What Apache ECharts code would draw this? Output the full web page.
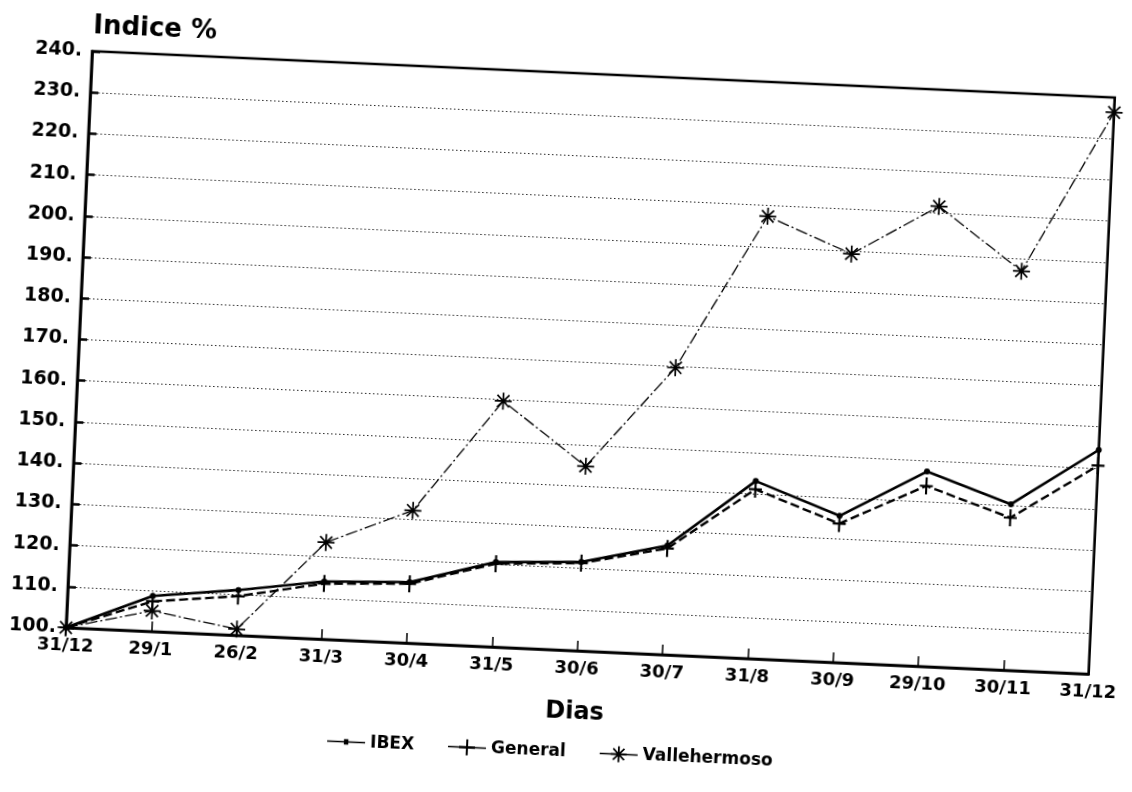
<!DOCTYPE html>
<html>
<head>
<meta charset="utf-8">
<script src="https://cdn.jsdelivr.net/npm/echarts@6/dist/echarts.min.js"></script>
<style>
  html, body { margin: 0; padding: 0; background: #fff; overflow: hidden; }
  #chart { width: 1132px; height: 792px; transform: rotate(2.6deg); transform-origin: 50% 50%; }
</style>
</head>
<body>
<div id="chart"></div>
<script>
// ---- data ----
const categories = ['31/12', '29/1', '26/2', '31/3', '30/4', '31/5', '30/6', '30/7', '31/8', '30/9', '29/10', '30/11', '31/12'];
const ibex        = [100, 108.6, 111.0, 114.0, 114.8, 120.6, 121.6, 126.5, 143.1, 135.6, 147.3, 140.3, 154.4];
const general     = [100, 107.3, 109.5, 113.5, 114.4, 120.2, 121.3, 125.8, 141.1, 133.7, 143.8, 137.0, 150.6];
const vallehermoso = [100, 105.0, 101.5, 123.5, 132.2, 159.7, 144.8, 169.7, 207.4, 199.2, 211.7, 196.9, 236.4];
const yMin = 100, yMax = 240, yStep = 10;
const seriesNames = ['IBEX', 'General', 'Vallehermoso'];
const yAxisTitle = 'Indice %';
const xAxisTitle = 'Dias';

// ---- styling ----
const FONT = 'DejaVu Sans';
const plusPath = 'path://M-1.3,-10 L1.3,-10 L1.3,10 L-1.3,10 Z M-8,-1.3 L8,-1.3 L8,1.3 L-8,1.3 Z';
const starPath = 'path://M-1,-10 L1,-10 L1,10 L-1,10 Z M-10,-1 L10,-1 L10,1 L-10,1 Z ' +
  'M-7.8,-6.4 L-6.4,-7.8 L7.8,6.4 L6.4,7.8 Z M6.4,-7.8 L7.8,-6.4 L-6.4,7.8 L-7.8,6.4 Z';
// legend icons: line with the series marker in the middle
const legendIconIbex = 'path://M0,1.9 L38,1.9 L38,3.5 L0,3.5 Z M16.8,0 L21.2,0 L21.2,5.4 L16.8,5.4 Z';
const legendIconGeneral = 'path://M0,7.2 L38,7.2 L38,8.8 L0,8.8 Z M18,0 L20,0 L20,16 L18,16 Z M11,6.8 L27,6.8 L27,9.2 L11,9.2 Z';
const legendIconValle = 'path://M0,7.2 L38,7.2 L38,8.8 L0,8.8 Z M18.1,0 L19.9,0 L19.9,16 L18.1,16 Z ' +
  'M11,6.9 L27,6.9 L27,9.1 L11,9.1 Z M12.8,3 L14,1.8 L25.2,13 L24,14.2 Z M24,1.8 L25.2,3 L14,14.2 L12.8,13 Z';

const chart = echarts.init(document.getElementById('chart'), null, { renderer: 'canvas' });
chart.setOption({
  animation: false,
  backgroundColor: '#fff',
  grid: {
    left: 77, top: 73, right: 23, bottom: 142,
    show: true, borderColor: '#000', borderWidth: 2.6, backgroundColor: 'transparent'
  },
  legend: {
    bottom: 27, left: 'center',
    itemWidth: 38, itemHeight: 16, itemGap: 34,
    textStyle: { fontFamily: FONT, fontWeight: 'bold', fontSize: 17, color: '#000' },
    data: [
      { name: seriesNames[0], icon: legendIconIbex },
      { name: seriesNames[1], icon: legendIconGeneral },
      { name: seriesNames[2], icon: legendIconValle }
    ]
  },
  xAxis: {
    type: 'category',
    data: categories,
    boundaryGap: false,
    name: xAxisTitle,
    nameLocation: 'middle',
    nameGap: 50,
    nameTextStyle: { fontFamily: FONT, fontWeight: 'bold', fontSize: 24, color: '#000' },
    axisLine: { lineStyle: { color: '#000', width: 2.6 } },
    axisTick: { inside: true, length: 10, lineStyle: { color: '#000', width: 1.5 } },
    axisLabel: { margin: 9, fontFamily: FONT, fontWeight: 'bold', fontSize: 18, color: '#000' },
    splitLine: { show: false }
  },
  yAxis: {
    type: 'value',
    min: yMin, max: yMax, interval: yStep,
    name: yAxisTitle,
    nameLocation: 'end',
    nameGap: 12,
    nameTextStyle: { fontFamily: FONT, fontWeight: 'bold', fontSize: 26, color: '#000', align: 'left' },
    axisLine: { show: true, lineStyle: { color: '#000', width: 2.6 } },
    axisTick: { show: true, inside: true, length: 8, lineStyle: { color: '#000', width: 2.5 } },
    axisLabel: {
      margin: 10, fontFamily: FONT, fontWeight: 'bold', fontSize: 19, color: '#000',
      formatter: v => v + '.'
    },
    splitLine: { show: true, lineStyle: { color: '#000', width: 1, type: [1.5, 2.5], opacity: 0.85 } }
  },
  series: [
    {
      name: seriesNames[0], type: 'line', data: ibex,
      symbol: 'circle', symbolSize: 6, showAllSymbol: true,
      lineStyle: { color: '#000', width: 2.6, type: 'solid' },
      itemStyle: { color: '#000' }, z: 3
    },
    {
      name: seriesNames[1], type: 'line', data: general,
      symbol: plusPath, symbolSize: [13, 17], showAllSymbol: true,
      lineStyle: { color: '#000', width: 2.4, type: [9, 4] },
      itemStyle: { color: '#000' }, z: 2
    },
    {
      name: seriesNames[2], type: 'line', data: vallehermoso,
      symbol: starPath, symbolSize: 17, showAllSymbol: true,
      lineStyle: { color: '#000', width: 1.3, type: [12, 3, 2, 3] },
      itemStyle: { color: '#000' }, z: 4
    }
  ]
});
</script>
</body>
</html>
